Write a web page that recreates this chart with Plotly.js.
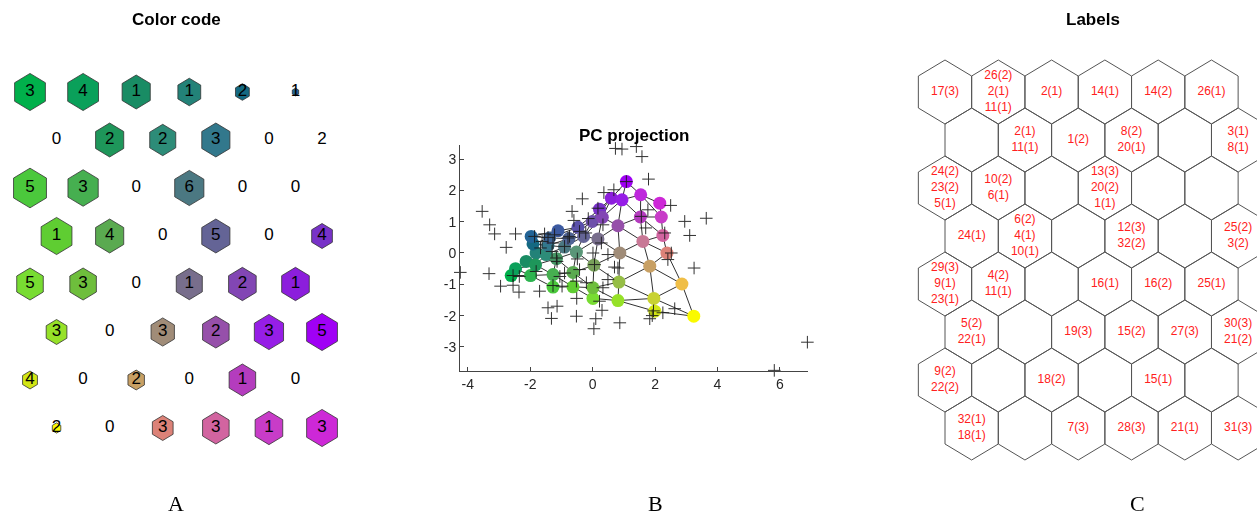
<!DOCTYPE html>
<html><head><meta charset="utf-8">
<script src="https://cdn.plot.ly/plotly-3.0.1.min.js"></script>
<style>html,body{margin:0;padding:0;background:#fff}#chart{width:1257px;height:515px}</style>
</head><body><div id="chart"></div>
<script>
// SOM grid 8 rows x 6 columns (row-major)
const nRows = 8, nCols = 6;
const hits = [3,4,1,1,2,1, 0,2,2,3,0,2, 5,3,0,6,0,0, 1,4,0,5,0,4, 5,3,0,1,2,1, 3,0,3,2,3,5, 4,0,2,0,1,0, 2,0,3,3,1,3];
const hexSize = [0.58,0.58,0.53,0.43,0.26,0.12,
                 0,0.53,0.49,0.53,0,0,
                 0.62,0.57,0,0.55,0,0,
                 0.58,0.53,0,0.53,0,0.39,
                 0.50,0.50,0,0.49,0.52,0.52,
                 0.39,0,0.44,0.50,0.55,0.58,
                 0.28,0,0.31,0,0.50,0,
                 0.16,0,0.39,0.50,0.52,0.58];
const unitColors = ['#00b04b','#0aa05a','#198c64','#238278','#146982','#236496',
                    '#2db450','#1e965a','#2d8c78','#32788c','#3c6496','#3c5aa0',
                    '#4bc83c','#46af50','#469664','#4b7882','#506496','#5a50aa',
                    '#5fcd32','#5aaa50','#5a9678','#646496','#6e50aa','#7832c8',
                    '#78dc32','#6ebe3c','#78a05a','#786e8c','#8246b4','#8c1edc',
                    '#96e128','#96be46','#a08c78','#9650aa','#961ee6','#a000f5',
                    '#d2e614','#c8d232','#c8a064','#c87896','#b43cbe','#be28dc',
                    '#fafa00','#f0be46','#dc8278','#d264a0','#c83cc8','#cd28d7'];
const unitLabels = ['17(3)','26(2)<br>2(1)<br>11(1)','2(1)','14(1)','14(2)','26(1)',
                    '','2(1)<br>11(1)','1(2)','8(2)<br>20(1)','','3(1)<br>8(1)',
                    '24(2)<br>23(2)<br>5(1)','10(2)<br>6(1)','','13(3)<br>20(2)<br>1(1)','','',
                    '24(1)','6(2)<br>4(1)<br>10(1)','','12(3)<br>32(2)','','25(2)<br>3(2)',
                    '29(3)<br>9(1)<br>23(1)','4(2)<br>11(1)','','16(1)','16(2)','25(1)',
                    '5(2)<br>22(1)','','19(3)','15(2)','27(3)','30(3)<br>21(2)',
                    '9(2)<br>22(2)','','18(2)','','15(1)','',
                    '32(1)<br>18(1)','','7(3)','28(3)','21(1)','31(3)'];
// prototype vectors projected on the first two principal components
const nodePC1 = [-2.61,-2.47,-2.13,-1.81,-1.91,-1.97,
                 -1.99,-1.83,-1.49,-1.43,-1.38,-1.11,
                 -1.27,-1.27,-1.16,-0.90,-0.76,-0.47,
                 -0.63,-0.63,-0.52,-0.29,-0.01,0.22,
                  0.01,0.01,0.04,0.17,0.31,0.60,
                  0.81,0.84,0.87,0.81,0.94,1.08,
                  1.99,1.96,1.83,1.61,1.53,1.54,
                  3.24,2.86,2.38,2.25,2.20,2.15];
const nodePC2 = [-0.72,-0.50,-0.27,0.00,0.29,0.53,
                 -0.72,-0.38,-0.05,0.24,0.48,0.71,
                 -1.09,-0.69,-0.18,0.19,0.46,0.82,
                 -1.08,-0.62,0.03,0.53,1.01,1.40,
                 -1.45,-1.11,-0.39,0.45,1.14,1.75,
                 -1.52,-0.93,0.00,0.87,1.70,2.28,
                 -1.86,-1.45,-0.42,0.37,1.15,1.86,
                 -2.02,-0.99,0.00,0.56,1.15,1.59];
// data samples projected on the first two principal components
const dataPC1 = [0.73,0.94,1.40,1.58,1.79,0.36,0.68,1.08,-0.33,2.50,-0.66,-3.54,-3.30,-3.14,2.95,3.64,3.11,-2.47,-2.77,1.77,
                 2.31,2.52,3.25,-4.24,-3.32,-2.95,-2.55,-2.36,-1.70,-1.27,-0.51,0.33,0.22,0.30,-1.43,-1.14,-1.32,-0.52,0.10,0.04,
                 0.87,1.91,2.25,2.63,1.83,6.88,5.82,0.33,0.28,0.01,0.49,0.81,2.41,-0.98,-2.35,-1.81,-0.60,
                 -1.86,-1.54,-1.62,-1.22,-1.27,-0.79,-1.67,-1.43,-1.16,-1.14,-0.90,-0.74,-0.42,-0.22,-0.49,0.06,-2.55,-0.90,-0.42,-0.52,
                 0.49,0.17,-0.14,1.56,1.95,1.70,-1.30,-0.20,0.70,-1.05];
const dataPC2 = [3.34,3.32,3.40,3.08,2.36,1.93,2.02,2.28,1.73,1.52,1.33,1.33,0.90,0.61,1.01,1.11,0.56,0.61,0.18,1.38,
                 0.64,0.00,-0.48,-0.62,-0.66,-1.06,-1.03,-1.25,-1.22,-1.04,-1.45,-1.11,-1.54,-1.83,-1.75,-1.70,-2.09,-2.02,-2.10,-2.42,
                 -2.23,-2.00,-1.91,-1.78,-2.10,-2.85,-3.75,0.90,0.32,0.00,-0.05,-0.48,-0.21,-1.06,-0.75,-0.59,1.04,
                 0.53,0.61,0.37,0.58,0.32,0.48,0.16,0.50,-0.16,-0.27,0.21,0.53,0.69,0.64,-0.19,-0.37,-0.72,-0.64,-0.53,-0.90,
                 -0.85,1.43,1.10,1.17,-1.85,0.80,0.05,-0.95,-0.45,-0.75];
const xTicksB = [-4,-2,0,2,4,6];
const yTicksB = [-3,-2,-1,0,1,2,3];

// ---------- helpers ----------
function gx(r,c){ return (c+1) + (r%2===1 ? 0.5 : 0); } // r,c zero-based; even display rows shifted
function gy(r){ return -(r+1); }
function hexPath(x,y,s){
  const xs=[x, x+0.5*s, x+0.5*s, x, x-0.5*s, x-0.5*s, x];
  const ys=[y+2/3*s, y+1/3*s, y-1/3*s, y-2/3*s, y-1/3*s, y+1/3*s, y+2/3*s];
  return {xs, ys};
}
const traces = [];
const font = 'Liberation Sans, Arial, sans-serif';

// ---------- Panel A ----------
const ax=[], ay=[], at=[];
for(let r=0;r<nRows;r++) for(let c=0;c<nCols;c++){
  const i=r*nCols+c, x=gx(r,c), y=gy(r);
  if(hexSize[i]>0){
    const h=hexPath(x,y,hexSize[i]);
    traces.push({type:'scatter',mode:'lines',x:h.xs,y:h.ys,fill:'toself',fillcolor:unitColors[i],
      line:{color:'#333',width:0.8},xaxis:'x',yaxis:'y',hoverinfo:'skip',showlegend:false});
  }
  ax.push(x); ay.push(y); at.push(String(hits[i]));
}
traces.push({type:'scatter',mode:'text',x:ax,y:ay,text:at,textfont:{family:font,size:17,color:'#000'},
  xaxis:'x',yaxis:'y',hoverinfo:'skip',showlegend:false,cliponaxis:false});

// ---------- Panel B ----------
const ex=[], ey=[];
function link(a,b){ ex.push(nodePC1[a],nodePC1[b],null); ey.push(nodePC2[a],nodePC2[b],null); }
for(let r=0;r<nRows;r++) for(let c=0;c<nCols;c++){
  const i=r*nCols+c;
  if(c+1<nCols) link(i,i+1);
  if(r+1<nRows){
    const nb = (r%2===0) ? [c-1,c] : [c,c+1];
    nb.forEach(cc=>{ if(cc>=0&&cc<nCols) link(i,(r+1)*nCols+cc); });
  }
}
traces.push({type:'scatter',mode:'lines',x:ex,y:ey,line:{color:'#1a1a1a',width:0.9},xaxis:'x2',yaxis:'y2',hoverinfo:'skip',showlegend:false});
traces.push({type:'scatter',mode:'markers',x:nodePC1,y:nodePC2,marker:{size:13,color:unitColors,line:{width:0}},
  xaxis:'x2',yaxis:'y2',hoverinfo:'skip',showlegend:false});
traces.push({type:'scatter',mode:'markers',x:dataPC1,y:dataPC2,cliponaxis:false,
  marker:{symbol:'cross-thin-open',size:9,color:'#1a1a1a',line:{width:1,color:'#1a1a1a'}},opacity:0.9,
  xaxis:'x2',yaxis:'y2',hoverinfo:'skip',showlegend:false});

// ---------- Panel C ----------
const cx=[], cy=[], lx=[], ly=[];
for(let r=0;r<nRows;r++) for(let c=0;c<nCols;c++){
  const i=r*nCols+c, x=gx(r,c), y=gy(r);
  const h=hexPath(x,y,1);
  cx.push(...h.xs,null); cy.push(...h.ys,null);
  lx.push(x); ly.push(y);
}
traces.push({type:'scatter',mode:'lines',x:cx,y:cy,line:{color:'#555',width:1},xaxis:'x3',yaxis:'y3',hoverinfo:'skip',showlegend:false});
traces.push({type:'scatter',mode:'text',x:lx,y:ly,text:unitLabels,textfont:{family:font,size:12,color:'#ff2020'},
  xaxis:'x3',yaxis:'y3',hoverinfo:'skip',showlegend:false});

const W=1257,H=515;
const yDomA=[1-470/H,1-50/H];
const hidden={visible:false,showgrid:false,zeroline:false,fixedrange:true};
const titleFont={family:font,size:17,color:'#000'};
const serif={family:'Liberation Serif, Times New Roman, serif',size:22,color:'#000'};
const layout={
  width:W,height:H,margin:{l:0,r:0,t:0,b:0},paper_bgcolor:'#fff',plot_bgcolor:'rgba(0,0,0,0)',showlegend:false,
  xaxis:Object.assign({domain:[0,360/W],range:[0.435,7.215]},hidden),
  yaxis:Object.assign({domain:yDomA,range:[-8.875,-0.125]},hidden),
  xaxis2:{domain:[460/W,808/W],range:[-4.25,6.9],anchor:'y2',showline:true,linecolor:'#444',linewidth:1,
    ticks:'inside',ticklen:4,tickcolor:'#444',tickvals:xTicksB,ticktext:xTicksB.map(String),
    tickfont:{family:font,size:14,color:'#262626'},showgrid:false,zeroline:false,mirror:false},
  yaxis2:{domain:[1-371/H,1-145/H],range:[-3.77,3.45],anchor:'x2',showline:true,linecolor:'#444',linewidth:1,
    ticks:'inside',ticklen:4,tickcolor:'#444',tickvals:yTicksB,ticktext:yTicksB.map(String),
    tickfont:{family:font,size:14,color:'#262626'},showgrid:false,zeroline:false,mirror:false},
  xaxis3:Object.assign({domain:[890/W,1],range:[-0.032,6.854],anchor:'y3'},hidden),
  yaxis3:Object.assign({domain:yDomA,range:[-8.875,-0.125],anchor:'x3'},hidden),
  annotations:[
    {text:'<b>Color code</b>',x:176/W,y:1-20/H,xref:'paper',yref:'paper',showarrow:false,xanchor:'center',yanchor:'middle',font:titleFont},
    {text:'<b>PC projection</b>',x:634/W,y:1-135/H,xref:'paper',yref:'paper',showarrow:false,xanchor:'center',yanchor:'middle',font:titleFont},
    {text:'<b>Labels</b>',x:1093/W,y:1-20/H,xref:'paper',yref:'paper',showarrow:false,xanchor:'center',yanchor:'middle',font:titleFont},
    {text:'A',x:176/W,y:1-503/H,xref:'paper',yref:'paper',showarrow:false,xanchor:'center',yanchor:'middle',font:serif},
    {text:'B',x:655/W,y:1-503/H,xref:'paper',yref:'paper',showarrow:false,xanchor:'center',yanchor:'middle',font:serif},
    {text:'C',x:1137/W,y:1-503/H,xref:'paper',yref:'paper',showarrow:false,xanchor:'center',yanchor:'middle',font:serif}
  ]
};
Plotly.newPlot('chart',traces,layout,{staticPlot:true,displayModeBar:false});
</script></body></html>
